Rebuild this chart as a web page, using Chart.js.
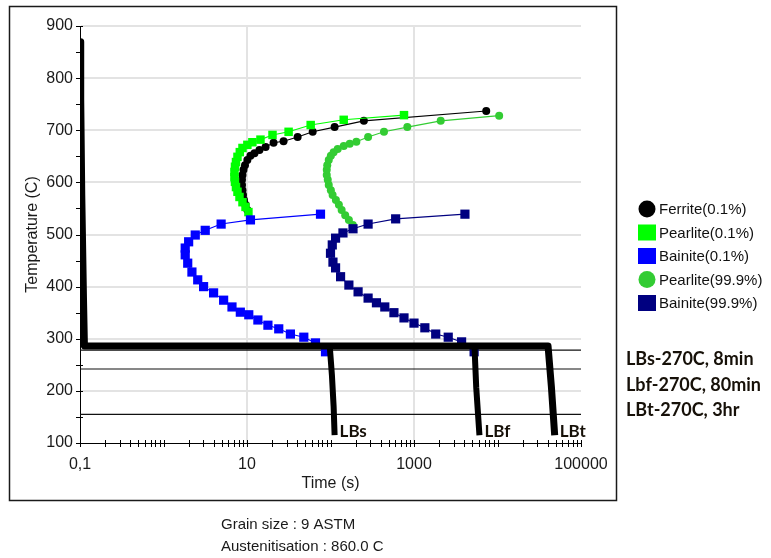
<!DOCTYPE html>
<html>
<head>
<meta charset="utf-8">
<title>CCT / TTT diagram</title>
<script src="https://cdn.jsdelivr.net/npm/chart.js@4/dist/chart.umd.min.js"></script>
<style>
  html, body { margin: 0; padding: 0; background: #fff; }
  canvas { display: block; }
</style>
</head>
<body>
<canvas id="ttt" width="771" height="558"></canvas>
<script>
// ---- data: time in seconds, temperature in °C ----
const seriesNames = ['Ferrite(0.1%)', 'Pearlite(0.1%)', 'Bainite(0.1%)', 'Pearlite(99.9%)', 'Bainite(99.9%)'];

const ferrite01Time = [10.1, 9.6, 9.2, 8.96, 8.83, 8.71, 8.71, 8.83, 9.08, 9.46, 10.1, 11.0, 12.3, 14.1, 16.7, 20.8, 27.4, 40.4, 61.2, 112, 251, 7330];
const ferrite01Temp = [547, 557, 566, 576, 585, 595, 605, 614, 624, 633, 643, 651, 656, 662, 668, 676, 679, 687, 697, 706, 718, 737];

const pearlite01Time = [10.4, 9.6, 8.83, 8.13, 7.69, 7.38, 7.18, 7.08, 7.08, 7.18, 7.38, 7.69, 8.2, 8.83, 10.1, 11.6, 14.5, 20.2, 31.5, 57.9, 144, 759];
const pearlite01Temp = [543, 553, 562, 572, 582, 591, 601, 610, 620, 630, 639, 649, 658, 666, 672, 677, 682, 691, 697, 710, 720, 729];

const bainite01Time = [75.9, 11.0, 4.90, 3.16, 2.40, 2.0, 1.82, 1.82, 1.95, 2.19, 2.57, 3.02, 3.98, 5.25, 6.61, 8.32, 10.5, 13.5, 17.8, 24.0, 33.1, 47.9, 66.1, 87.1];
const bainite01Temp = [539, 528, 520, 508, 499, 486, 474, 461, 445, 428, 413, 400, 388, 374, 361, 351, 346, 336, 326, 319, 309, 303, 292, 275];

const pearlite999Time = [185, 166, 150, 136, 126, 116, 106, 101, 95.3, 92.7, 90.2, 90.2, 91.4, 95.3, 101, 109, 122, 144, 170, 204, 282, 437, 832, 2089, 10470];
const pearlite999Temp = [518, 528, 537, 547, 557, 566, 576, 585, 595, 605, 614, 624, 633, 643, 651, 658, 664, 670, 674, 678, 687, 697, 706, 718, 728];

const bainite999Time = [4074, 603, 282, 186, 141, 115, 105, 100, 107, 115, 132, 166, 214, 282, 355, 447, 575, 759, 1000, 1349, 1820, 2570, 3715, 5248];
const bainite999Temp = [539, 530, 520, 511, 503, 493, 480, 464, 447, 436, 419, 403, 390, 378, 369, 361, 350, 340, 330, 321, 309, 303, 294, 275];

// quench from austenitisation, isothermal hold, final cool (LBt)
const coolingTime = [0.1, 0.102, 0.105, 0.11, 0.113, 40300, 44200, 48400];
const coolingTemp = [870, 760, 575, 380, 286, 286, 208, 115];
// final cools after shorter holds
const lbsTime = [97.9, 104, 109, 112];
const lbsTemp = [286, 230, 170, 115];
const lbfTime = [5300, 5560, 6080];
const lbfTemp = [286, 207, 115];

// martensite reference temperatures
const martensiteTemps = [278, 242, 155];

const timeTickValues = [0.1, 10, 1000, 100000];
const timeTickLabels = ['0,1', '10', '1000', '100000'];
const timeGridValues = [10, 1000];
const tempTickValues = [100, 200, 300, 400, 500, 600, 700, 800, 900];

const dropLabels = ['LBs', 'LBf', 'LBt'];
const holdNotes = ['LBs-270C, 8min', 'Lbf-270C, 80min', 'LBt-270C, 3hr'];
const footerNotes = ['Grain size : 9 ASTM', 'Austenitisation : 860.0 C'];

// ---- drawing ----
const FONT = "'Liberation Sans', Arial, sans-serif";
const NOTE_FONT = "Lato, 'Open Sans', sans-serif";
const zip = (xs, ys) => xs.map((v, i) => ({ x: v, y: ys[i] }));
const sameValue = (a, b) => Math.abs(a - b) <= Math.abs(b) * 1e-6;

function curve(label, times, temps, color, style, radius, order) {
  return {
    label, data: zip(times, temps), inLegend: true, showLine: true,
    borderColor: color, borderWidth: 1.1, backgroundColor: color,
    pointStyle: style, pointRadius: radius, pointBackgroundColor: color,
    pointBorderWidth: 0, pointHoverRadius: radius, tension: 0, order
  };
}
function thick(times, temps, width) {
  return {
    data: zip(times, temps), showLine: true, borderColor: '#000', borderWidth: width,
    borderJoinStyle: 'round', borderCapStyle: 'butt', pointRadius: 0, tension: 0, order: 0
  };
}

const datasets = [
  curve(seriesNames[0], ferrite01Time, ferrite01Temp, '#000000', 'circle', 4, 5),
  curve(seriesNames[1], pearlite01Time, pearlite01Temp, '#00ff00', 'rect', 6, 4),
  curve(seriesNames[2], bainite01Time, bainite01Temp, '#0000ff', 'rect', 6.5, 3),
  curve(seriesNames[3], pearlite999Time, pearlite999Temp, '#33cc33', 'circle', 4, 2),
  curve(seriesNames[4], bainite999Time, bainite999Temp, '#000080', 'rect', 6.5, 1),
  thick(coolingTime, coolingTemp, 7),
  thick(lbsTime, lbsTemp, 6),
  thick(lbfTime, lbfTemp, 6),
  ...martensiteTemps.map(t => ({
    data: [{ x: timeTickValues[0], y: t }, { x: timeTickValues[timeTickValues.length - 1], y: t }],
    showLine: true, borderColor: '#111', borderWidth: 1.2, pointRadius: 0, order: 10
  }))
];

const decor = {
  id: 'decor',
  afterDraw(chart) {
    const { ctx, chartArea, scales: { x, y } } = chart;
    ctx.save();
    // tick marks crossing the axis lines
    ctx.strokeStyle = '#000';
    ctx.lineWidth = 1;
    x.ticks.forEach(t => {
      const px = Math.round(x.getPixelForValue(t.value)) + 0.5;
      ctx.beginPath(); ctx.moveTo(px, chartArea.bottom - 3); ctx.lineTo(px, chartArea.bottom + 4); ctx.stroke();
    });
    y.ticks.forEach(t => {
      const py = Math.round(y.getPixelForValue(t.value)) + 0.5;
      ctx.beginPath(); ctx.moveTo(chartArea.left - 4, py); ctx.lineTo(chartArea.left + 3, py); ctx.stroke();
    });

    // outer frame around plot and axis titles
    ctx.strokeStyle = '#1a1a1a';
    ctx.lineWidth = 1.5;
    ctx.strokeRect(9.5, 6.5, 607, 494);

    // labels at the end of each final cool
    const ends = [[lbsTime, lbsTemp], [lbfTime, lbfTemp], [coolingTime, coolingTemp]];
    ctx.fillStyle = '#161008';
    ctx.font = `bold 17px ${NOTE_FONT}`;
    ctx.textBaseline = 'alphabetic';
    ctx.textAlign = 'left';
    dropLabels.forEach((txt, i) => {
      const [ts, Ts] = ends[i];
      const px = x.getPixelForValue(ts[ts.length - 1]);
      const py = y.getPixelForValue(Ts[Ts.length - 1]);
      ctx.fillText(txt, px + 5, py + 2);
    });

    // legend
    ctx.font = `15px ${FONT}`;
    ctx.textBaseline = 'middle';
    chart.data.datasets.filter(d => d.inLegend).forEach((d, i) => {
      const cy = 209 + i * 23.5;
      ctx.fillStyle = d.pointBackgroundColor;
      if (d.pointStyle === 'circle') {
        ctx.beginPath(); ctx.arc(647, cy, 8.5, 0, Math.PI * 2); ctx.fill();
      } else {
        ctx.fillRect(638, cy - 8, 18, 16);
      }
      ctx.fillStyle = '#111';
      ctx.fillText(d.label, 659, cy + 1);
    });

    // hold notes
    ctx.font = `bold 18px ${NOTE_FONT}`;
    ctx.textBaseline = 'alphabetic';
    ctx.fillStyle = '#161008';
    holdNotes.forEach((txt, i) => ctx.fillText(txt, 626, 365 + i * 25.5));

    // footer
    ctx.font = `15px ${FONT}`;
    ctx.textBaseline = 'middle';
    ctx.fillStyle = '#1a1a1a';
    footerNotes.forEach((txt, i) => ctx.fillText(txt, 221, 525 + i * 22));
    ctx.restore();
  }
};

function buildChart() {
  Chart.defaults.font.family = FONT;
  Chart.defaults.color = '#1a1a1a';
  new Chart(document.getElementById('ttt'), {
    type: 'scatter',
    data: { datasets },
    options: {
      responsive: false,
      animation: false,
      devicePixelRatio: 1,
      layout: { padding: { left: 9, top: 26, right: 190, bottom: 65 } },
      plugins: { legend: { display: false }, tooltip: { enabled: false } },
      scales: {
        x: {
          type: 'logarithmic',
          position: 'bottom',
          min: timeTickValues[0],
          max: timeTickValues[timeTickValues.length - 1],
          afterBuildTicks(scale) {
            const ticks = [];
            for (let e = -1; e < 5; e++) {
              for (let m = 1; m < 10; m++) ticks.push({ value: +(m * Math.pow(10, e)).toPrecision(6) });
            }
            ticks.push({ value: timeTickValues[timeTickValues.length - 1] });
            scale.ticks = ticks;
          },
          afterFit(scale) { scale.height = 50; },
          ticks: {
            autoSkip: false, maxRotation: 0, minRotation: 0, padding: 12,
            font: { size: 16 }, color: '#1a1a1a',
            callback(value) {
              const i = timeTickValues.findIndex(t => sameValue(value, t));
              return i >= 0 ? timeTickLabels[i] : '';
            }
          },
          grid: {
            drawTicks: false, lineWidth: 2,
            color: c => (c.tick && timeGridValues.some(t => sameValue(c.tick.value, t))) ? '#e3e3e3' : 'rgba(0,0,0,0)'
          },
          border: { display: true, color: '#000', width: 1 },
          title: { display: true, text: 'Time (s)', font: { size: 16 }, color: '#1a1a1a', padding: { top: 0, bottom: 0 } }
        },
        y: {
          type: 'linear',
          min: tempTickValues[0],
          max: tempTickValues[tempTickValues.length - 1],
          afterBuildTicks(scale) {
            const ticks = [];
            tempTickValues.forEach((v, i) => {
              ticks.push({ value: v });
              if (i < tempTickValues.length - 1) ticks.push({ value: (v + tempTickValues[i + 1]) / 2 });
            });
            scale.ticks = ticks;
          },
          afterFit(scale) { scale.width = 71; },
          ticks: {
            autoSkip: false, padding: 7, font: { size: 16 }, color: '#1a1a1a',
            callback: value => tempTickValues.includes(value) ? String(value) : ''
          },
          grid: {
            drawTicks: false, lineWidth: 2,
            color: c => (c.tick && tempTickValues.includes(c.tick.value) && c.tick.value > tempTickValues[0]) ? '#e3e3e3' : 'rgba(0,0,0,0)'
          },
          border: { display: true, color: '#000', width: 1 },
          title: { display: true, text: 'Temperature (C)', font: { size: 16 }, color: '#1a1a1a', padding: { top: 14, bottom: 0 } }
        }
      }
    },
    plugins: [decor]
  });
}

const fontLoads = [`16px ${FONT}`, `bold 17px ${NOTE_FONT}`, `bold 18px ${NOTE_FONT}`].map(f => document.fonts.load(f).catch(() => null));
Promise.all(fontLoads).then(buildChart, buildChart);
</script>
</body>
</html>
